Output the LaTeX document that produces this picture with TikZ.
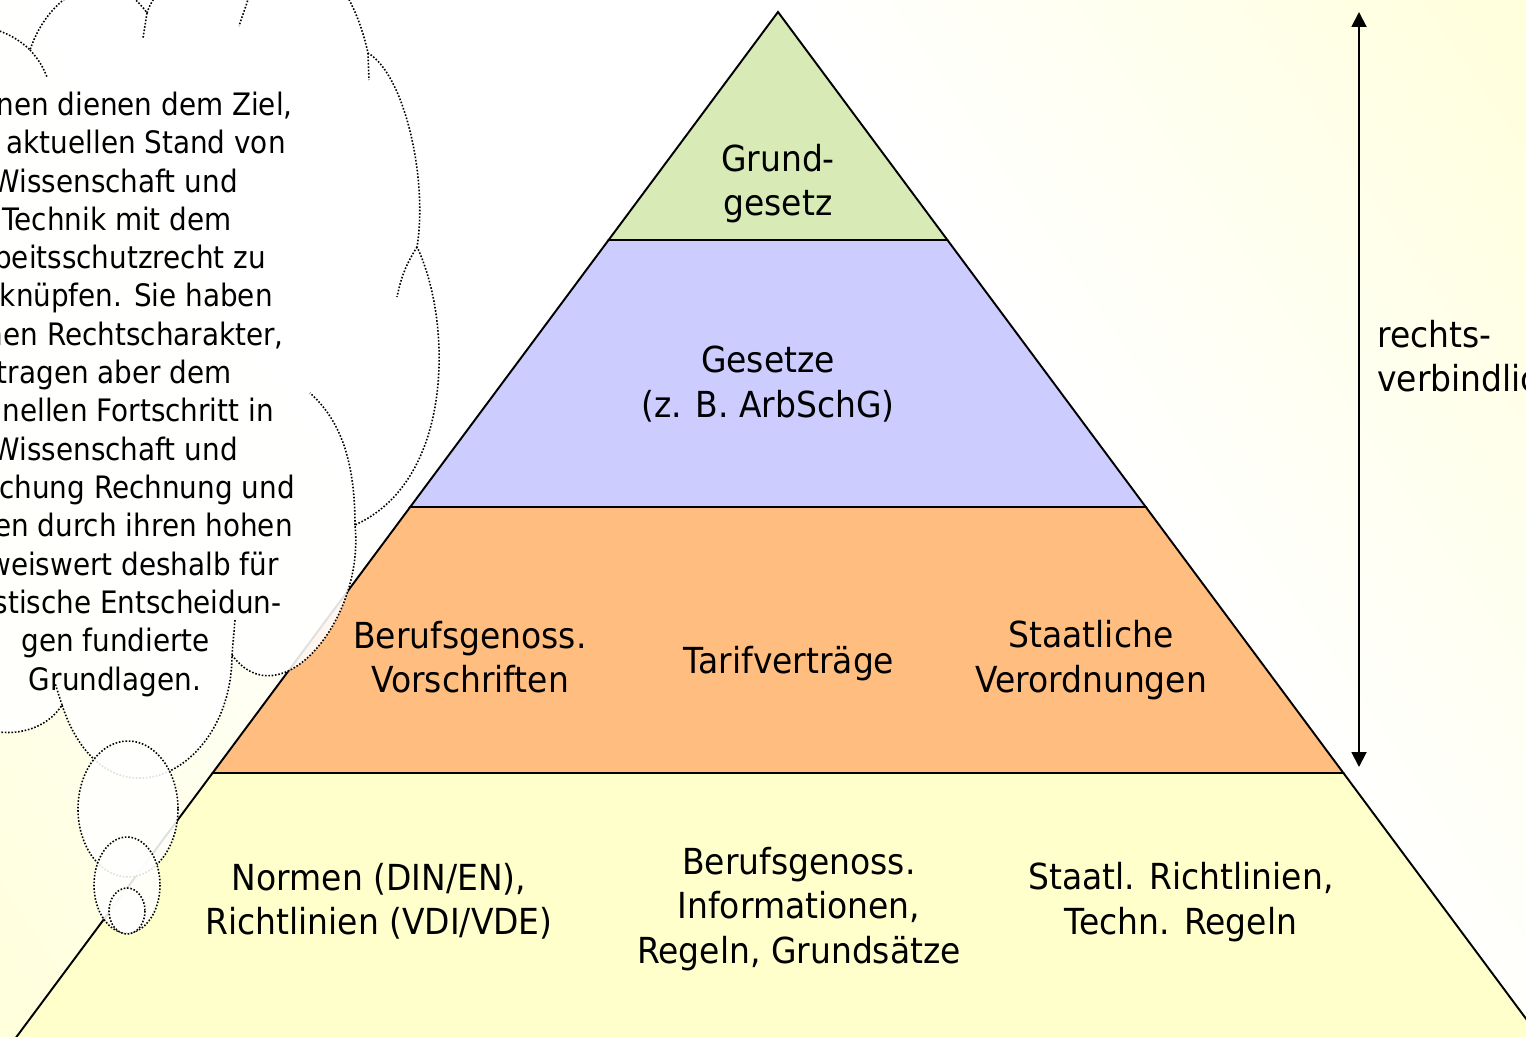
\documentclass[tikz,border=0pt]{standalone}
\usepackage{fontspec}
\setmainfont{DejaVu Sans}[FakeStretch=0.92]
\newfontfamily\cloudfont{DejaVu Sans}[FakeStretch=0.9]
\usetikzlibrary{arrows.meta,positioning}

\definecolor{bgyellow}{RGB}{255,255,208}
\definecolor{lawgreen}{RGB}{216,234,182}
\definecolor{lawblue}{RGB}{204,204,255}
\definecolor{laworange}{RGB}{255,190,128}
\definecolor{lawyellow}{RGB}{255,255,204}

\pgfdeclarehorizontalshading{bgfade}{100bp}{color(0bp)=(bgyellow); color(22bp)=(bgyellow);
  color(42bp)=(white); color(58bp)=(white); color(78bp)=(bgyellow); color(100bp)=(bgyellow)}

\begin{document}
\begin{tikzpicture}[x=0.02cm, y=-0.02cm, >={Triangle[width=0.3cm, length=0.3cm]},
    layer/.style={draw=black, line width=1.1pt},
    level text/.style={align=center, inner sep=0pt, font=\fontsize{20.4pt}{25.2pt}\selectfont},
    cloud line/.style={draw=black, line width=0.9pt, dash pattern=on 0.9pt off 1pt},
    cloud fill/.style={cloud line, fill=white, fill opacity=0.88},
    cloud text/.style={inner sep=0pt, font=\cloudfont\fontsize{17.6pt}{21.8pt}\selectfont}]

  \useasboundingbox (0,0) rectangle (1526,1037);
  \clip (0,0) rectangle (1526,1037);

  % background
  \shade[shading=bgfade, shading angle=34] (-237,-482) rectangle (1763,1518);

  % pyramid
  \coordinate (apex) at (778,12);
  \coordinate (l1) at (608.6,240);  \coordinate (r1) at (947.4,240);
  \coordinate (l2) at (410.2,507);  \coordinate (r2) at (1145.8,507);
  \coordinate (l3) at (212.6,773);  \coordinate (r3) at (1343.4,773);
  \coordinate (l4) at (-0.7,1060);  \coordinate (r4) at (1556.7,1060);

  \path[layer, fill=lawyellow] (l3) -- (r3) -- (r4) -- (l4) -- cycle;
  \path[layer, fill=laworange] (l2) -- (r2) -- (r3) -- (l3) -- cycle;
  \path[layer, fill=lawblue] (l1) -- (r1) -- (r2) -- (l2) -- cycle;
  \path[layer, fill=lawgreen] (apex) -- (r1) -- (l1) -- cycle;

  % thought cloud
  \path[cloud fill] (-60,40) .. controls (-30,15) and (10,30) .. (30,50)
    .. controls (50,-10) and (110,-40) .. (147,13)
    .. controls (160,-30) and (230,-50) .. (252,-12)
    .. controls (280,-70) and (345,-50) .. (368,53)
    .. controls (405,75) and (428,180) .. (417,247)
    .. controls (452,320) and (455,480) .. (355,525)
    .. controls (365,620) and (280,720) .. (232,655)
    .. controls (232,775) and (105,835) .. (62,705)
    .. controls (40,740) and (-20,745) .. (-60,700) -- cycle;

  \draw[cloud line] (30,50) to[bend left=10] (47,77);
  \draw[cloud line] (147,13) -- (143,38);
  \draw[cloud line] (252,-12) -- (239,26);
  \draw[cloud line] (368,53) -- (369,80);
  \draw[cloud line] (417,247) to[bend right=10] (397,297);
  \draw[cloud line] (355,525) .. controls (355,460) and (340,420) .. (310,393);
  \draw[cloud line] (232,655) -- (235,620);
  \draw[cloud line] (62,705) -- (55,683);

  \path[cloud fill] (128,809) ellipse [x radius=50, y radius=68];
  \path[cloud fill] (127,885) ellipse [x radius=33, y radius=48];
  \path[cloud fill] (127,911) ellipse [x radius=18, y radius=23];

  \foreach \rend/\txt [count=\i] in {293/{nen dienen dem Ziel,}, 286/{aktuellen Stand von},
      238/{Wissenschaft und}, 232/{Technik mit dem}, 266/{beitsschutzrecht zu},
      273/{knüpfen. Sie haben}, 284/{nen Rechtscharakter,}, 232/{tragen aber dem},
      274/{nellen Fortschritt in}, 238/{Wissenschaft und}, 295/{chung Rechnung und},
      293/{en durch ihren hohen}, 279/{weiswert deshalb für}, 282/{stische Entscheidun-}}
    \node[cloud text, anchor=base east] (cl\i) at (\rend,{115.5+38.3*(\i-1)}) {\txt};
  \node[cloud text, anchor=base] (cl15) at (115.5,651.7) {gen fundierte};
  \node[cloud text, anchor=base] (cl16) at (115,690) {Grundlagen.};

  % level labels
  \node[level text] (grund) at (778,183.5) {Grund-\\gesetz};
  \node[level text] (gesetze) at (768,384) {Gesetze\\(z. B. ArbSchG)};
  \node[level text] (bgvor) at (470,657) {Berufsgenoss.\\Vorschriften};
  \node[level text] (tarif) at (789,664) {Tarifverträge};
  \node[level text] (staatvo) at (1091,660) {Staatliche\\Verordnungen};
  \node[level text] (normen) at (379,901) {Normen (DIN/EN),\\Richtlinien (VDI/VDE)};
  \node[level text] (bginfo) at (799,909) {Berufsgenoss.\\Informationen,\\Regeln, Grundsätze};
  \node[level text] (staatrl) at (1181,902) {Staatl. Richtlinien,\\Techn. Regeln};

  % binding range
  \coordinate (top) at (1359,12);
  \coordinate (bottom) at (1359,767);
  \draw[line width=1.1pt, <->] (top) -- (bottom);
  \node[level text, align=left, anchor=west] (binding) at (1377,356) {rechts-\\verbindlich};
\end{tikzpicture}
\end{document}
